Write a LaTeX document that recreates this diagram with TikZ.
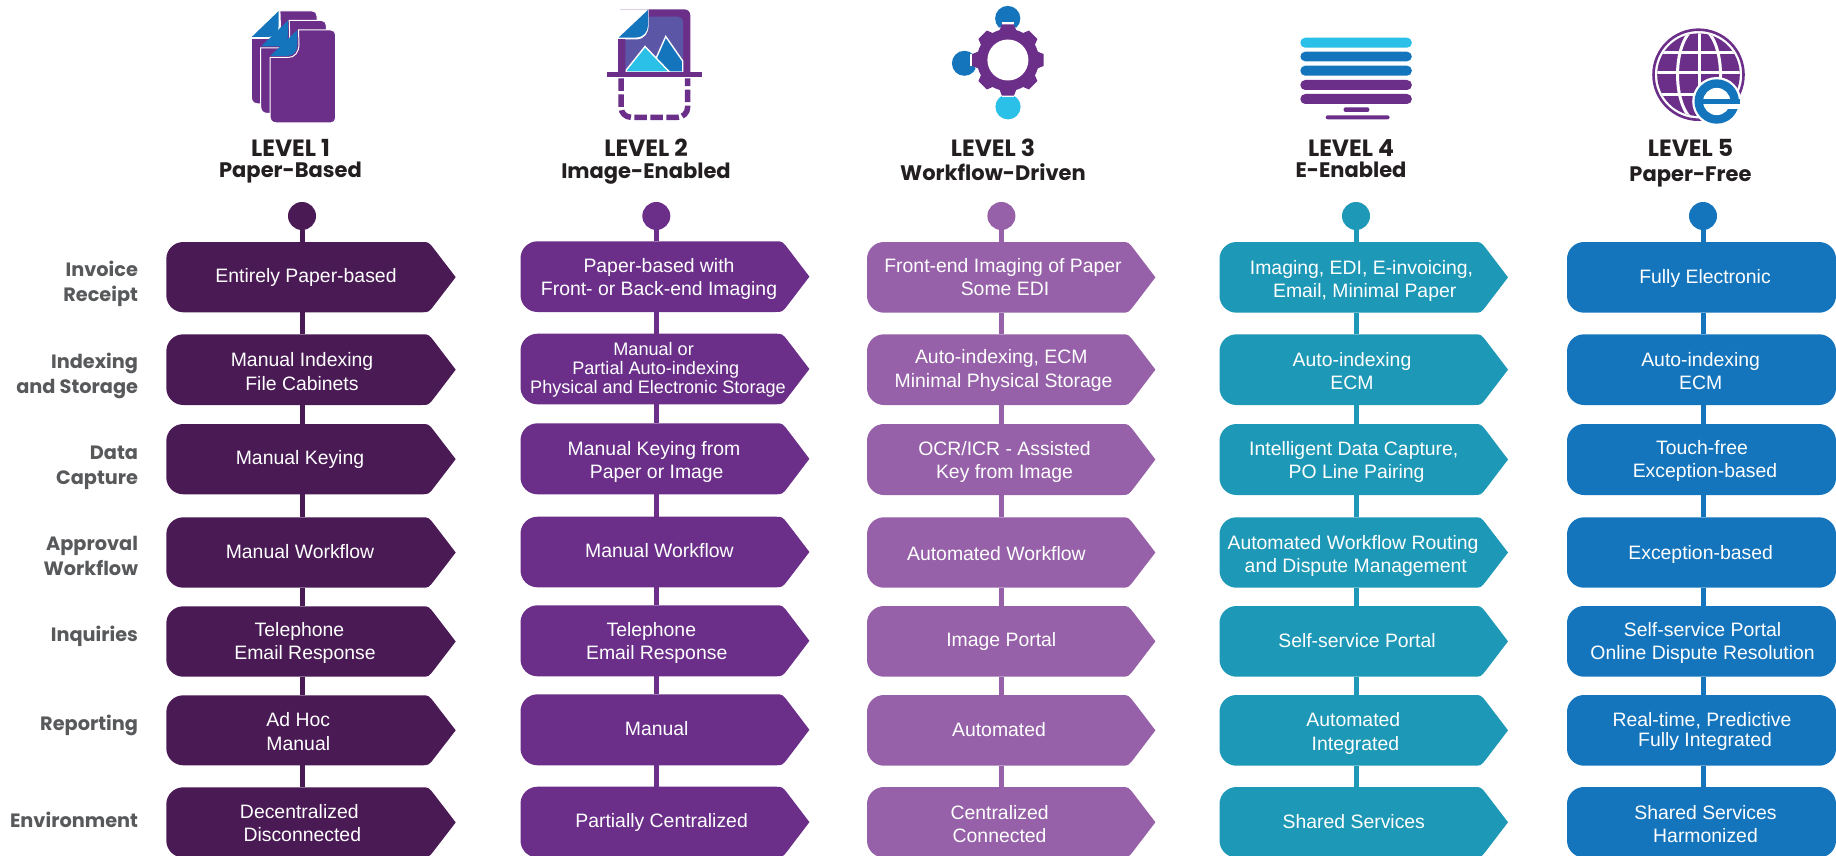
\documentclass[tikz,border=0pt]{standalone}
\usepackage{fontspec}
\setmainfont{Liberation Sans}
\newfontfamily\headf{Poppins}
\usetikzlibrary{calc}
\definecolor{cA}{HTML}{4A1A55}
\definecolor{cB}{HTML}{6B2F8A}
\definecolor{cC}{HTML}{9661A8}
\definecolor{cD}{HTML}{1D98B6}
\definecolor{cE}{HTML}{1475BD}
\definecolor{cSky}{HTML}{2BC0E8}
\definecolor{cIndigo}{HTML}{5B57A6}
\definecolor{cHead}{HTML}{231F20}
\definecolor{cGrey}{HTML}{58595B}
\tikzset{
  anchorbox/.style={inner sep=0pt,outer sep=0pt,draw=none,fill=none},
  dot/.style={circle,inner sep=0pt,outer sep=0pt,minimum size=28pt},
  spine/.style={line width=5pt},
  txt/.style={text=white,align=center,inner sep=0pt,outer sep=0pt,yshift=-2.6pt,font=\fontsize{19.4}{23}\selectfont},
  head/.style={text=cHead,align=center,inner sep=0pt,outer sep=0pt,font=\headf\bfseries\fontsize{21}{23}\selectfont},
  rowlabel/.style={text=cGrey,align=right,anchor=east,inner sep=0pt,outer sep=0pt,font=\headf\bfseries\fontsize{19.3}{25}\selectfont},
}
% pentagon: name, colour, left, top, bottom, tip
\newcommand\pent[6]{%
  \pgfmathsetmacro\cy{(#4+#5)/2}%
  \pgfmathsetmacro\sx{#6-27}%
  \fill[#2] ({#3+17},#4) -- ({\sx-7},#4) .. controls (\sx,#4) .. ({\sx+6},{#4+7.8})
    -- (#6,\cy) -- ({\sx+6},{#5-7.8}) .. controls (\sx,#5) .. ({\sx-7},#5)
    -- ({#3+17},#5) .. controls ({#3+7.6},#5) and (#3,{#5-7.6}) .. (#3,{#5-17})
    -- (#3,{#4+17}) .. controls (#3,{#4+7.6}) and ({#3+7.6},#4) .. ({#3+17},#4) -- cycle;
  \node[anchorbox,minimum width={(#6-#3)*1pt},minimum height={(#5-#4)*1pt}] (#1) at ({(#3+#6)/2},\cy) {};
}
% rounded box of the fifth column: name, top, bottom
\newcommand\rbox[3]{%
  \node[fill=cE,rounded corners=17pt,inner sep=0pt,outer sep=0pt,minimum width=269pt,minimum height={(#3-#2)*1pt}] (#1) at (1701.5,{(#2+#3)/2}) {};
}
\newcommand\tx[4]{\node[txt] (#1) at (#2,#3) {\strut #4\strut};}
\newcommand\sh[1]{\hspace*{\dimexpr#1pt*2\relax}}
\newcommand\lv[1]{{\fontsize{23.5}{23}\selectfont\strut #1}}
\begin{document}
\begin{tikzpicture}[x=1pt,y=-1pt]
\useasboundingbox (0,0) rectangle (1836,856);
\clip (0,0) rectangle (1836,856);
\fill[white] (0,0) rectangle (1836,856);

% ---------- icon 1: pages
\foreach \dx/\dy in {-18.6/-19,-9.3/-9.5,0/0}{
\begin{scope}[shift={(\dx,\dy)}]
  \fill[cB,draw=white,line width=1pt] (298.5,30) -- (331,30) .. controls (334,30) and (335.6,32) .. (335.6,35)
    -- (335.6,118) .. controls (335.6,121) and (334,122.8) .. (331,122.8) -- (276,122.8)
    .. controls (272,122.8) and (270,120) .. (270,116) -- (270,57.5) -- (288,57.5)
    .. controls (295,57.5) and (299,52) .. (299,44) -- cycle;
  \fill[cE] (297.3,30) -- (270.5,55.8) -- (288,55.8) .. controls (294,55.8) and (297.3,51) .. (297.3,44) -- cycle;
\end{scope}}

% ---------- icon 2: image scan
\fill[cB] (618.2,12) .. controls (618.2,12) and (618.2,9.3) .. (621,9.3) -- (684,9.3)
  .. controls (688,9.3) and (690.4,12) .. (690.4,16) -- (690.4,72) -- (618.2,72) -- cycle;
\fill[cIndigo] (625.4,72) -- (625.4,16.7) -- (678,16.7) .. controls (681,16.7) and (683.2,19) .. (683.2,22) -- (683.2,72) -- cycle;
\fill[white] (618.2,9.3) -- (648.6,9.3) -- (648.6,25) .. controls (648.6,33) and (645,39) .. (636,39.5) -- (618.2,39.5) -- cycle;
\fill[cE] (648,10) -- (618.6,37.6) -- (636,37.6) .. controls (643,37.6) and (648,32) .. (648,25) -- cycle;
\fill[cB] (618.2,39.5) rectangle (625.4,72);
\fill[cE,draw=white,line width=1.4pt] (665.7,36.5) -- (682.7,61) -- (682.7,72) -- (650,72) -- cycle;
\fill[cSky,draw=white,line width=1.4pt] (645,46.5) -- (669.5,72) -- (626.3,72) -- (626.3,70) -- cycle;
\fill[cB] (606.8,71.7) rectangle (702.1,77.3);
\draw[cB,line width=5.5pt,dash pattern=on 12.5pt off 3.5pt,dash phase=0pt,rounded corners=10pt]
  (621,78.3) -- (621,117.3) -- (687.6,117.3) -- (687.6,78.3);

% ---------- icon 3: gear and three heads
\fill[cE] (1007.7,18.5) circle (12.6);
\fill[cE] (964.4,63.3) circle (12.5);
\fill[cSky] (1008,106.8) circle (12.6);
\foreach \a in {0,90,180,270}{
  \draw[white,line width=3.5pt] ({1007.9+36.3*cos(\a-10)},{60+36.3*sin(\a-10)}) -- ({1007.9+36.3*cos(\a+10)},{60+36.3*sin(\a+10)});
}
\fill[white] (1007.9,60) circle (33.5);
\foreach \a in {0,45,...,315}{
  \fill[cB] ({1007.9+30*cos(\a-17)},{60+30*sin(\a-17)}) -- ({1007.9+36.2*cos(\a-9.5)},{60+36.2*sin(\a-9.5)}) -- ({1007.9+36.2*cos(\a+9.5)},{60+36.2*sin(\a+9.5)}) -- ({1007.9+30*cos(\a+17)},{60+30*sin(\a+17)}) -- cycle;
}
\fill[cB] (1007.9,60) circle (31);
\fill[white] (1007.9,60) circle (20.5);

% ---------- icon 4: screen of bars
\foreach \ya/\yb/\c in {37.7/47.7/cSky,51.7/61.3/cE,65.7/75.7/cE,80/90/cB,94/104/cB}{
  \fill[\c,rounded corners=4.8pt] (1300.4,\ya) rectangle (1411.8,\yb);
}
\fill[cB,rounded corners=2pt] (1343.6,107.3) rectangle (1369.3,112);
\fill[cB,rounded corners=2pt] (1325.7,115.3) rectangle (1389.6,119.3);

% ---------- icon 5: globe and e
\draw[cB,line width=2.6pt] (1698.5,74.7) circle (45);
\begin{scope}
  \clip (1698.5,74.7) circle (41.3);
  \fill[cB] (1653,30) rectangle (1745,120);
  \draw[white,line width=3pt] (1653,52.3) -- (1745,52.3) (1653,72.8) -- (1745,72.8) (1653,94.5) -- (1745,94.5) (1699,28) -- (1699,121);
  \draw[white,line width=3pt] (1699,74.7) ellipse (21.5 and 47);
\end{scope}
\fill[white] (1716.7,101.5) circle (24.5);
\fill[cE] (1716.7,101.5) circle (22.2);
\fill[white] (1716.7,101.5) circle (13.6);
\fill[cE] (1702,98.6) rectangle (1739.5,103.6);
\fill[white] (1726,104.2) rectangle (1740,108.6);

% ---------- level headings
\node[head] (h1) at (290.5,162) {\lv{LEVEL 1}\\[-2pt]Paper-Based\strut};
\node[head] (h2) at (646,162.5) {\lv{LEVEL 2}\\[-1pt]Image-Enabled\strut};
\node[head] (h3) at (993,163) {\lv{LEVEL 3}\\[-1pt]Workflow-Driven\strut};
\node[head] (h4) at (1351,161.7) {\lv{LEVEL 4}\\[-2pt]E-Enabled\strut};
\node[head] (h5) at (1690.5,163.8) {\lv{LEVEL 5}\\[2pt]Paper-Free\strut};

% ---------- dots
\node[dot,fill=cA] (d1) at (302,216) {};
\node[dot,fill=cB] (d2) at (656.3,216) {};
\node[dot,fill=cC] (d3) at (1001.4,216) {};
\node[dot,fill=cD] (d4) at (1356,216) {};
\node[dot,fill=cE] (d5) at (1703,216) {};

% ---------- boxes
\pent{b11}{cA}{166.3}{242}{312.3}{455.7}
\pent{b12}{cA}{166.3}{334.3}{405}{455.7}
\pent{b13}{cA}{166.3}{424}{494.3}{455.7}
\pent{b14}{cA}{166.3}{517.3}{587.7}{455.7}
\pent{b15}{cA}{166.3}{606.3}{676.7}{455.7}
\pent{b16}{cA}{166.3}{695.3}{765.3}{455.7}
\pent{b17}{cA}{166.3}{787.3}{857.5}{455.7}

\pent{b21}{cB}{520.5}{241.3}{312}{809.4}
\pent{b22}{cB}{520.5}{333.7}{404.3}{809.4}
\pent{b23}{cB}{520.5}{423.3}{494.3}{809.4}
\pent{b24}{cB}{520.5}{516.7}{587.3}{809.4}
\pent{b25}{cB}{520.5}{605.3}{676.3}{809.4}
\pent{b26}{cB}{520.5}{694.3}{765.3}{809.4}
\pent{b27}{cB}{520.5}{786.7}{857.5}{809.4}

\pent{b31}{cC}{867}{242}{312.7}{1155.4}
\pent{b32}{cC}{867}{334.3}{405}{1155.4}
\pent{b33}{cC}{867}{424}{495}{1155.4}
\pent{b34}{cC}{867}{517.3}{587.7}{1155.4}
\pent{b35}{cC}{867}{606}{676.7}{1155.4}
\pent{b36}{cC}{867}{695}{765.7}{1155.4}
\pent{b37}{cC}{867}{787}{857.5}{1155.4}

\pent{b41}{cD}{1219.5}{242}{312.7}{1508}
\pent{b42}{cD}{1219.5}{334.3}{405}{1508}
\pent{b43}{cD}{1219.5}{424}{495}{1508}
\pent{b44}{cD}{1219.5}{517.3}{587.7}{1508}
\pent{b45}{cD}{1219.5}{606}{676.7}{1508}
\pent{b46}{cD}{1219.5}{695}{765.7}{1508}
\pent{b47}{cD}{1219.5}{787}{857.5}{1508}

\rbox{b51}{242}{312.7}
\rbox{b52}{334.3}{405}
\rbox{b53}{424}{495}
\rbox{b54}{517.3}{587.7}
\rbox{b55}{606}{676.7}
\rbox{b56}{695}{765.7}
\rbox{b57}{787}{857.5}

% ---------- connectors
\foreach \col/\c in {1/cA,2/cB,3/cC,4/cD,5/cE}{
  \draw[spine,\c] (d\col) -- (b\col1.north -| d\col);
  \foreach \r [evaluate=\r as \n using int(\r+1)] in {1,...,6}{
    \draw[spine,\c] (b\col\r.south -| d\col) -- (b\col\n.north -| d\col);
  }
}

% ---------- row labels
\node[rowlabel] (l1) at (138,283.5) {\strut Invoice\\Receipt\strut};
\node[rowlabel] (l2) at (138,375.5) {\strut Indexing\\and Storage\strut};
\node[rowlabel] (l3) at (138,466.7) {\strut Data\\Capture\strut};
\node[rowlabel] (l4) at (138,558) {\strut Approval\\Workflow\strut};
\node[rowlabel] (l5) at (138,636.5) {\strut Inquiries\strut};
\node[rowlabel] (l6) at (138,725.2) {\strut Reporting\strut};
\node[rowlabel] (l7) at (138,822.5) {\strut Environment\strut};

% ---------- column 1 texts
\tx{t11}{306}{275}{Entirely Paper-based}
\tx{t12}{302}{371}{Manual Indexing\\[1pt]File Cabinets}
\tx{t13}{300}{457.7}{Manual Keying}
\tx{t14}{300}{551}{Manual Workflow}
\tx{t15}{299.5}{640.8}{Telephone\\\sh{5.5}Email Response}
\tx{t16}{298.3}{731.3}{Ad Hoc\\[1pt]Manual}
\tx{t17}{299.3}{822.5}{Decentralized\\\sh{3}Disconnected}

% ---------- column 2 texts
\tx{t21}{659}{277.2}{Paper-based with\\Front- or Back-end Imaging}
\node[txt,font=\fontsize{18.1}{19}\selectfont] (t22) at (653.6,367.7) {\strut Manual or\\\sh{2.2}Partial Auto-indexing\\\sh{4.4}Physical and Electronic Storage\strut};
\tx{t23}{654}{460}{Manual Keying from\\\sh{2.7}Paper or Image}
\tx{t24}{659.4}{550}{Manual Workflow}
\tx{t25}{651.3}{640.8}{Telephone\\\sh{5.4}Email Response}
\tx{t26}{656.7}{728.3}{Manual}
\tx{t27}{661.6}{820.3}{Partially Centralized}

% ---------- column 3 texts
\tx{t31}{1003}{277.2}{Front-end Imaging of Paper\\\sh{2}Some EDI}
\tx{t32}{1001.3}{368.7}{Auto-indexing, ECM\\[1pt]\sh{2.3}Minimal Physical Storage}
\tx{t33}{1004.5}{460}{OCR/ICR - Assisted\\Key from Image}
\tx{t34}{996.4}{553.3}{Automated Workflow}
\tx{t35}{1001.3}{639.3}{Image Portal}
\tx{t36}{999}{729.3}{Automated}
\tx{t37}{999.6}{823.8}{Centralized\\Connected}

% ---------- column 4 texts
\tx{t41}{1361.5}{279}{Imaging, EDI, E-invoicing,\\\sh{3.2}Email, Minimal Paper}
\tx{t42}{1352}{371}{Auto-indexing\\ECM}
\tx{t43}{1353.8}{460}{Intelligent Data Capture,\\\sh{2.8}PO Line Pairing}
\tx{t44}{1353}{554.2}{Automated Workflow Routing\\\sh{2.8}and Dispute Management}
\tx{t45}{1357}{640.3}{Self-service Portal}
\tx{t46}{1353.3}{731.3}{Automated\\[1pt]\sh{2.1}Integrated}
\tx{t47}{1353.8}{821}{Shared Services}

% ---------- column 5 texts
\tx{t51}{1705}{276.3}{Fully Electronic}
\tx{t52}{1700.6}{371}{Auto-indexing\\ECM}
\tx{t53}{1702}{458.8}{Touch-free\\\sh{3}Exception-based}
\tx{t54}{1700.6}{552.7}{Exception-based}
\tx{t55}{1702.6}{640.8}{Self-service Portal\\Online Dispute Resolution}
\tx{t56}{1702}{729.3}{Real-time, Predictive\\[-3pt]\sh{3}Fully Integrated}
\tx{t57}{1705.5}{823.8}{Shared Services\\Harmonized}
\end{tikzpicture}
\end{document}
